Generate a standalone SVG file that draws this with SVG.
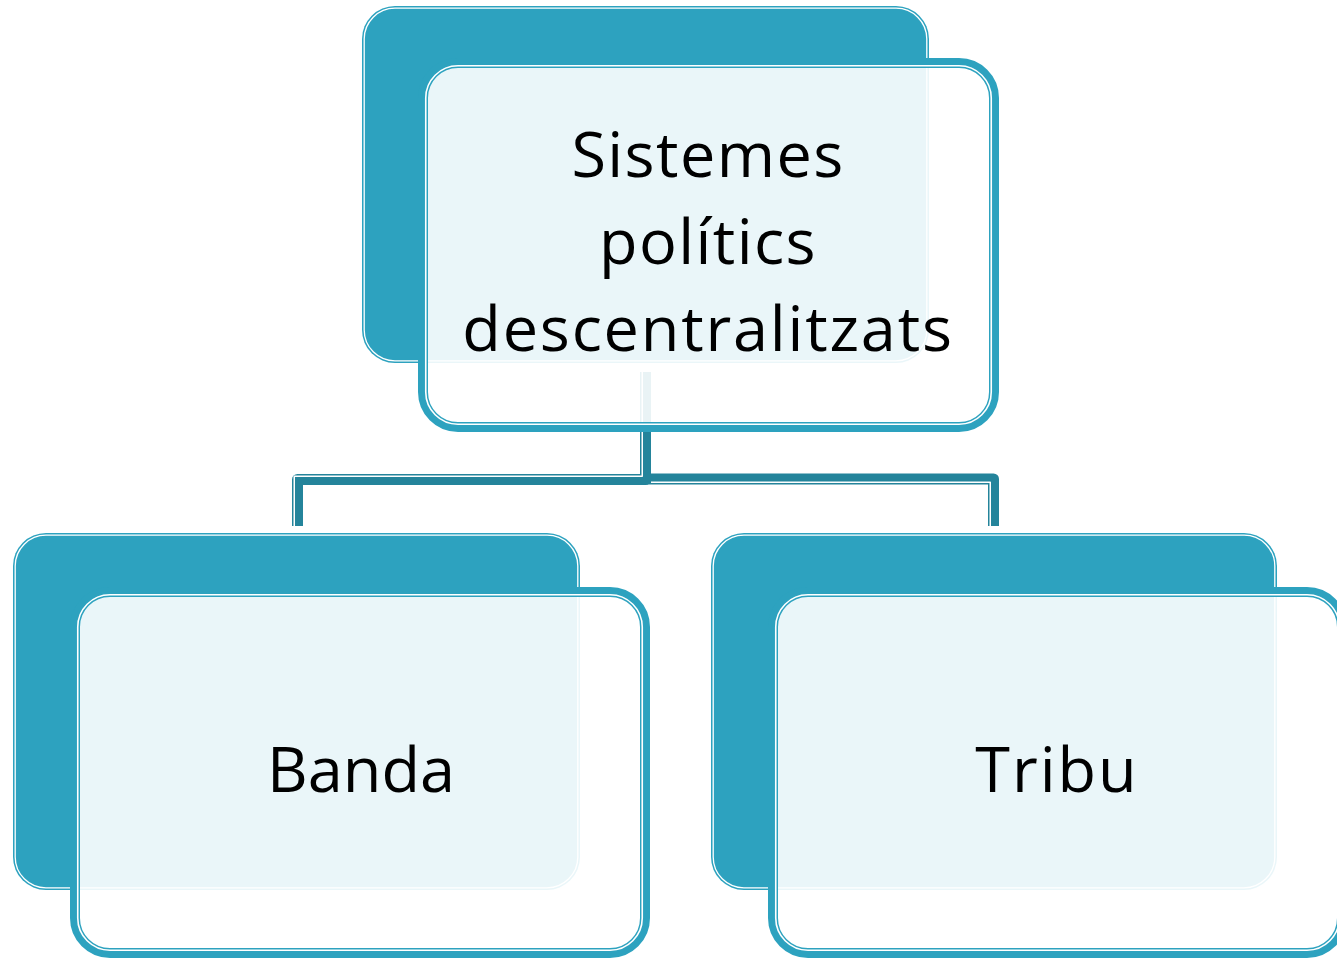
<svg xmlns="http://www.w3.org/2000/svg" width="1337" height="959" viewBox="0 0 1337 959">
<style>
.back{fill:#2DA2BF}
.backline{fill:none;stroke:#fff;stroke-width:1.3}
.front{fill:#fff;fill-opacity:0.9;stroke:#2DA2BF;stroke-width:10}
.frontline{fill:none;stroke:#fff;stroke-width:1.6}
.conn{fill:none;stroke:#24849B;stroke-width:11;stroke-linejoin:round}
.connline{fill:none;stroke:#fff;stroke-width:1.5;stroke-linejoin:round}
.label{font-family:"Open Sans","Noto Sans",sans-serif;font-size:63px;fill:#000;text-anchor:middle}
</style>
<rect width="1337" height="959" fill="#fff"/>
<g id="connectors">
<path class="conn" d="M645.5,372 V479.5 H297.5 V526"/>
<path class="conn" d="M645.5,372 V479 H993.5 V526"/>
<path class="connline" d="M642.25,372 V476.25 H294.25 V526"/>
<path class="connline" d="M651,482.25 H990.25 V526"/>
</g>
<g id="node-top">
<rect class="back" x="362" y="6" width="567" height="357" rx="33"/>
<rect class="backline" x="364.2" y="8.2" width="562.6" height="352.6" rx="30.8"/>
<rect class="front" x="423" y="63" width="571" height="364" rx="35"/>
<rect class="frontline" x="425.75" y="65.75" width="565.5" height="358.5" rx="32.25"/>
<text class="label" x="708" y="177" letter-spacing="1.4">Sistemes</text>
<text class="label" x="708" y="264" letter-spacing="1.4">polítics</text>
<text class="label" x="708" y="351" letter-spacing="1.8">descentralitzats</text>
</g>
<g id="node-banda">
<rect class="back" x="13" y="533" width="567" height="357" rx="33"/>
<rect class="backline" x="15.2" y="535.2" width="562.6" height="352.6" rx="30.8"/>
<rect class="front" x="75" y="592" width="570" height="361" rx="35"/>
<rect class="frontline" x="77.75" y="594.75" width="564.5" height="355.5" rx="32.25"/>
<text class="label" x="361" y="792">Banda</text>
</g>
<g id="node-tribu">
<rect class="back" x="711" y="533" width="566" height="357" rx="33"/>
<rect class="backline" x="713.2" y="535.2" width="561.6" height="352.6" rx="30.8"/>
<rect class="front" x="773" y="592" width="569" height="361" rx="35"/>
<rect class="frontline" x="775.75" y="594.75" width="563.5" height="355.5" rx="32.25"/>
<text class="label" x="1057" y="792" letter-spacing="2">Tribu</text>
</g>
</svg>
